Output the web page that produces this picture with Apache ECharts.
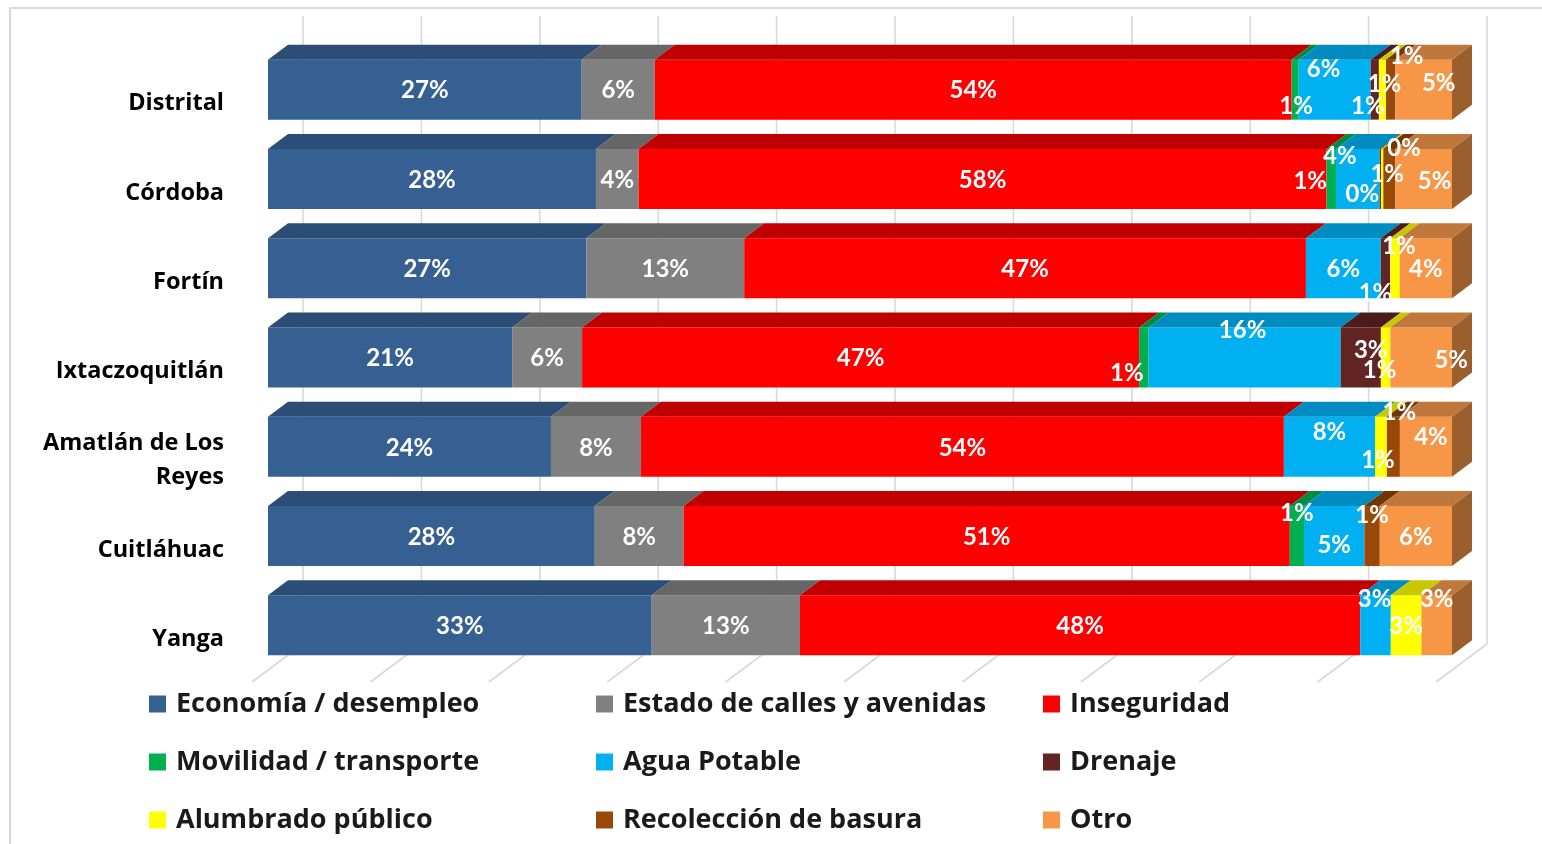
<!DOCTYPE html>
<html><head><meta charset="utf-8">
<script src="https://cdn.jsdelivr.net/npm/echarts@6/dist/echarts.min.js"></script>
<style>html,body{margin:0;padding:0;background:#fff}#c{width:1542px;height:844px}</style>
</head><body><div id="c"></div>
<script>
// ---- DATA ----
const categories = ['Distrital', 'Córdoba', 'Fortín', 'Ixtaczoquitlán', 'Amatlán de Los\nReyes', 'Cuitláhuac', 'Yanga'];
const seriesNames = ['Economía / desempleo', 'Estado de calles y avenidas', 'Inseguridad', 'Movilidad / transporte', 'Agua Potable', 'Drenaje', 'Alumbrado público', 'Recolección de basura', 'Otro'];
const economia    = [26.6, 27.7, 26.8, 20.6, 23.9, 27.6, 32.6];
const estado      = [6.2, 3.6, 13.3, 5.9, 7.6, 7.5, 12.6];
const inseguridad = [54.0, 58.1, 47.3, 47.0, 54.3, 51.2, 47.6];
const movilidad   = [0.6, 0.8, null, 0.8, null, 1.2, null];
const agua        = [6.1, 3.7, 6.3, 16.2, 7.7, 5.1, 2.6];
const drenaje     = [0.7, 0.1, 0.8, 3.4, null, null, null];
const alumbrado   = [0.6, 0.2, 0.8, 0.8, 1.0, null, 2.6];
const basura      = [0.8, 1.0, null, null, 1.1, 1.3, null];
const otro        = [4.8, 4.8, 4.4, 5.2, 4.4, 6.1, 2.6];
const xTicks = [0, 10, 20, 30, 40, 50, 60, 70, 80, 90, 100];

// ---- STYLE ----
const frontColors = ['#376092', '#808080', '#FF0000', '#00B050', '#00B0F0', '#632523', '#FFFF00', '#984807', '#F79646'];
const topColors   = ['#2c4d75', '#666666', '#C00000', '#008c40', '#008cc0', '#4b1c1b', '#c8c800', '#723605', '#c0773b'];
const sideColors  = ['#26425f', '#555555', '#a00000', '#00703a', '#0075a0', '#3d1716', '#a0a000', '#5e2c04', '#9b5f2d'];
// label offsets in px from segment centre, key "category-series"
const labelOffsets = {
  '0-3': [1, 16], '0-4': [-11, -21], '0-5': [-7, 16], '0-6': [2, -6], '0-7': [16, -34], '0-8': [15, -7],
  '1-3': [-21, 1], '1-4': [-18, -24], '1-5': [-18, 14], '1-6': [22, -32], '1-7': [-2, -6], '1-8': [11, 1],
  '2-5': [-10, 24], '2-6': [4, -23],
  '3-3': [-17, 15], '3-4': [-2, -28], '3-5': [10, -8], '3-6': [-6, 12], '3-8': [30, 2],
  '4-4': [0, -16], '4-6': [-3, 12], '4-7': [6, -36], '4-8': [5, -11],
  '5-3': [0, -24], '5-4': [0, 8], '5-7': [0, -22],
  '6-4': [-1, -27], '6-8': [0, -27]
};
const DX = 20, DY = -15;

const rows = [economia, estado, inseguridad, movilidad, agua, drenaje, alumbrado, basura, otro];

// build stacked (100%) segments
const segData = rows.map(() => []);
categories.forEach((c, ci) => {
  let total = 0;
  rows.forEach(r => { if (r[ci] != null) total += r[ci]; });
  let lastS = -1;
  rows.forEach((r, si) => { if (r[ci] != null) lastS = si; });
  let acc = 0;
  rows.forEach((r, si) => {
    if (r[ci] == null) return;
    const v = r[ci] / total * 100;
    segData[si].push([acc, acc + v, ci, r[ci], si === lastS ? 1 : 0]);
    acc += v;
  });
});

function renderSeg(params, api) {
  const si = params.seriesIndex - 1;
  const s = api.value(0), e = api.value(1), ci = api.value(2), raw = api.value(3), last = api.value(4);
  const p0 = api.coord([s, ci]), p1 = api.coord([e, ci]);
  const band = api.size([0, 1])[1];
  const h = band * 0.672;
  const x0 = p0[0], x1 = p1[0], yc = p0[1], yt = yc - h / 2, yb = yc + h / 2;
  const children = [
    {type: 'rect', shape: {x: x0, y: yt, width: x1 - x0, height: h}, style: {fill: frontColors[si]}},
    {type: 'polygon', shape: {points: [[x0, yt], [x1, yt], [x1 + DX, yt + DY], [x0 + DX, yt + DY]]}, style: {fill: topColors[si]}}
  ];
  if (last) {
    children.push({type: 'polygon', shape: {points: [[x1, yt], [x1 + DX, yt + DY], [x1 + DX, yb + DY], [x1, yb]]}, style: {fill: sideColors[si]}});
  }
  const off = labelOffsets[ci + '-' + si] || [0, 0];
  children.push({
    type: 'text', z2: 100,
    style: {
      text: Math.round(raw) + '%', x: (x0 + x1) / 2 + off[0], y: yc + 1 + off[1],
      fill: '#ffffff', font: 'bold 24px Lato',
      align: 'center', verticalAlign: 'middle', textAlign: 'center', textVerticalAlign: 'middle'
    }
  });
  return {type: 'group', children};
}

function renderGrid(params, api) {
  const cs = params.coordSys;
  const x = api.coord([api.value(0), 0])[0];
  const bottom = cs.y + cs.height;
  const st = {stroke: '#d9d9d9', lineWidth: 1.6};
  return {type: 'group', children: [
    {type: 'line', shape: {x1: x + 35, y1: cs.y - 29, x2: x + 35, y2: bottom - 26}, style: st},
    {type: 'line', shape: {x1: x - 16, y1: bottom + 12, x2: x + 35, y2: bottom - 26}, style: st}
  ]};
}

const series = [{
  type: 'custom', name: 'grid', z: 1, silent: true,
  data: xTicks.map(v => [v]), encode: {x: 0}, renderItem: renderGrid
}].concat(seriesNames.map((n, si) => ({
  type: 'custom', name: n, z: 2,
  itemStyle: {color: frontColors[si]},
  data: segData[si], encode: {x: [0, 1], y: 2},
  renderItem: renderSeg
})));

const legendCommon = {
  orient: 'vertical', top: 690, padding: 0, itemWidth: 17, itemHeight: 17, itemGap: 30,
  icon: 'rect', selectedMode: false,
  textStyle: {fontFamily: 'Open Sans', fontWeight: 'bold', fontSize: 27, color: '#1a1a1a', lineHeight: 28, padding: [0, 0, 0, 5]}
};

const chart = echarts.init(document.getElementById('c'));
chart.setOption({
  animation: false,
  backgroundColor: '#ffffff',
  grid: [
    {left: 268, right: 90, top: 45, bottom: 174},
    {left: 268, right: 90, top: 59, bottom: 160}
  ],
  xAxis: [
    {type: 'value', min: 0, max: 100, show: false, splitLine: {show: false}, gridIndex: 0},
    {type: 'value', min: 0, max: 100, show: false, splitLine: {show: false}, gridIndex: 1}
  ],
  yAxis: [
    {type: 'category', inverse: true, data: categories, gridIndex: 0, show: false},
    {
      type: 'category', inverse: true, data: categories, gridIndex: 1,
      axisLine: {show: false}, axisTick: {show: false}, splitLine: {show: false},
      axisLabel: {margin: 44, fontFamily: 'Open Sans', fontWeight: 'bold', fontSize: 23.5, color: '#000', lineHeight: 34, align: 'right'}
    }
  ],
  legend: [
    Object.assign({left: 149, data: [seriesNames[0], seriesNames[3], seriesNames[6]]}, legendCommon),
    Object.assign({left: 596, data: [seriesNames[1], seriesNames[4], seriesNames[7]]}, legendCommon),
    Object.assign({left: 1043, data: [seriesNames[2], seriesNames[5], seriesNames[8]]}, legendCommon)
  ],
  graphic: [{type: 'rect', shape: {x: 10, y: 8, width: 1540, height: 850}, style: {fill: 'none', stroke: '#d9d9d9', lineWidth: 2}, silent: true}],
  series
});
</script></body></html>
